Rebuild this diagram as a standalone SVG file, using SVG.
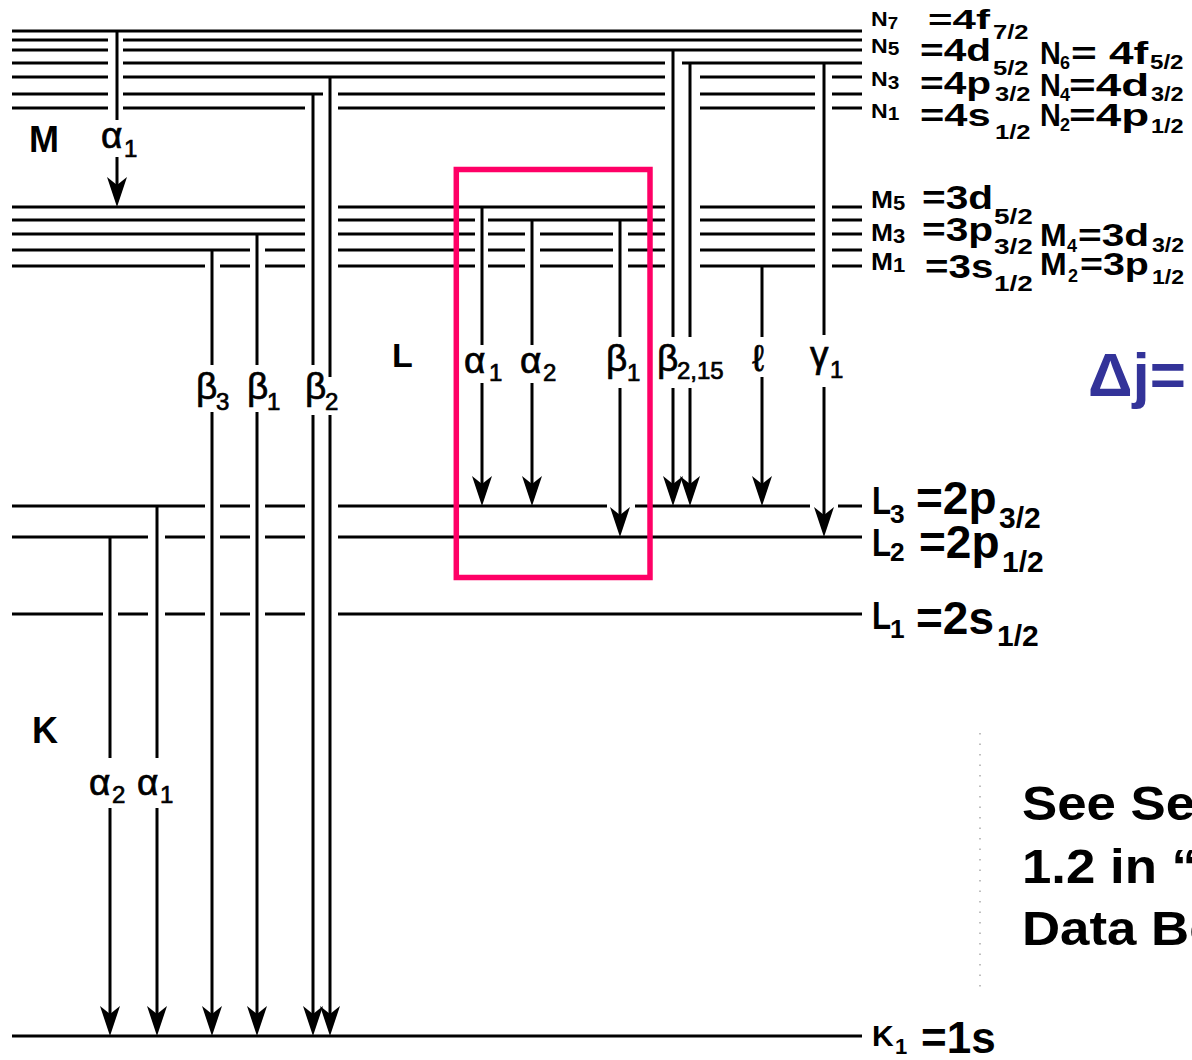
<svg xmlns="http://www.w3.org/2000/svg" width="1192" height="1060" viewBox="0 0 1192 1060">
<defs>
<style>
.lv{stroke:#000;stroke-width:3;fill:none}
.tr{stroke:#000;stroke-width:3;fill:none;marker-end:url(#arrow)}
text{font-family:"Liberation Sans",Arial,Helvetica,sans-serif;fill:#000}
.b{font-weight:bold}
.g{font-size:37px;stroke:#000;stroke-width:0.7}
.gs{font-size:24px}
.reg{font-weight:bold;font-size:36px}
</style>
<marker id="arrow" markerUnits="userSpaceOnUse" markerWidth="32" markerHeight="22" viewBox="-31 -11 32 22" refX="-8" refY="0" orient="auto">
<path d="M0,0 L-30,-10 L-22,0 L-30,10 Z" fill="#000"/>
</marker>
</defs>
<rect width="1192" height="1060" fill="#fff"/>

<!-- energy levels -->
<g id="N7">
<path class="lv" d="M12 31H862"/>
<text class="b" transform="translate(871,26) scale(1.1,1)" font-size="21">N<tspan font-size="17" dy="3">7</tspan></text>
<text class="b" transform="translate(928,29) scale(1.5,1)" font-size="28">=4f</text>
<text class="b" transform="translate(993,39) scale(1.22,1)" font-size="21">7/2</text>
</g>
<g id="N6">
<path class="lv" d="M12 40H108M123 40H862"/>
<text class="b" transform="translate(1040,64) scale(0.9,1)" font-size="32">N</text>
<text class="b" transform="translate(1060,69)" font-size="18">6</text>
<text class="b" transform="translate(1071,64) scale(1.38,1)" font-size="32">= 4f</text>
<text class="b" transform="translate(1150,69) scale(1.15,1)" font-size="21">5/2</text>
</g>
<g id="N5">
<path class="lv" d="M12 50H108M123 50H862"/>
<text class="b" transform="translate(871,53) scale(1.1,1)" font-size="21">N<tspan font-size="19" dy="2">5</tspan></text>
<text class="b" transform="translate(920,61) scale(1.27,1)" font-size="32">=4d</text>
<text class="b" transform="translate(993,75) scale(1.22,1)" font-size="21">5/2</text>
</g>
<g id="N4">
<path class="lv" d="M12 63H108M123 63H665M682 63H862"/>
<text class="b" transform="translate(1040,96) scale(0.9,1)" font-size="32">N</text>
<text class="b" transform="translate(1060,101)" font-size="18">4</text>
<text class="b" transform="translate(1069,96) scale(1.43,1)" font-size="32">=4d</text>
<text class="b" transform="translate(1151,101) scale(1.12,1)" font-size="21">3/2</text>
</g>
<g id="N3">
<path class="lv" d="M12 77H108M123 77H665M700 77H815M832 77H862"/>
<text class="b" transform="translate(871,86) scale(1.1,1)" font-size="21">N<tspan font-size="19" dy="3">3</tspan></text>
<text class="b" transform="translate(920,94) scale(1.27,1)" font-size="32">=4p</text>
<text class="b" transform="translate(995,101) scale(1.22,1)" font-size="21">3/2</text>
</g>
<g id="N2">
<path class="lv" d="M12 94H108M123 94H323M338 94H665M700 94H815M832 94H862"/>
<text class="b" transform="translate(1040,126) scale(0.9,1)" font-size="32">N</text>
<text class="b" transform="translate(1060,131)" font-size="18">2</text>
<text class="b" transform="translate(1069,126) scale(1.43,1)" font-size="32">=4p</text>
<text class="b" transform="translate(1151,133) scale(1.12,1)" font-size="21">1/2</text>
</g>
<g id="N1">
<path class="lv" d="M12 108H108M123 108H305M338 108H665M700 108H815M832 108H862"/>
<text class="b" transform="translate(871,118) scale(1.1,1)" font-size="21">N<tspan font-size="19" dy="2">1</tspan></text>
<text class="b" transform="translate(920,126) scale(1.3,1)" font-size="32">=4s</text>
<text class="b" transform="translate(995,139) scale(1.22,1)" font-size="21">1/2</text>
</g>

<g id="M5">
<path class="lv" d="M12 207H305M338 207H665M700 207H815M832 207H862"/>
<text class="b" transform="translate(871,208) scale(1.1,1)" font-size="24">M<tspan font-size="20" dy="2">5</tspan></text>
<text class="b" transform="translate(922,209) scale(1.23,1)" font-size="33">=3d</text>
<text class="b" transform="translate(994,224) scale(1.27,1)" font-size="22">5/2</text>
</g>
<g id="M4">
<path class="lv" d="M12 220H305M338 220H475M488 220H665M700 220H815M832 220H862"/>
<text class="b" x="1040" y="246" font-size="32">M</text>
<text class="b" x="1067" y="252" font-size="18">4</text>
<text class="b" transform="translate(1078,246) scale(1.27,1)" font-size="32">=3d</text>
<text class="b" transform="translate(1152,252) scale(1.1,1)" font-size="21">3/2</text>
</g>
<g id="M3">
<path class="lv" d="M12 234H305M338 234H475M488 234H525M540 234H613M628 234H665M700 234H815M832 234H862"/>
<text class="b" transform="translate(871,241) scale(1.1,1)" font-size="24">M<tspan font-size="20" dy="2">3</tspan></text>
<text class="b" transform="translate(922,241) scale(1.23,1)" font-size="33">=3p</text>
<text class="b" transform="translate(994,254) scale(1.27,1)" font-size="22">3/2</text>
</g>
<g id="M2">
<path class="lv" d="M12 250H250M265 250H305M338 250H475M488 250H525M540 250H613M628 250H665M700 250H815M832 250H862"/>
<text class="b" x="1040" y="275" font-size="32">M</text>
<text class="b" x="1068" y="282" font-size="18">2</text>
<text class="b" transform="translate(1080,275) scale(1.23,1)" font-size="32">=3p</text>
<text class="b" transform="translate(1152,284) scale(1.1,1)" font-size="21">1/2</text>
</g>
<g id="M1">
<path class="lv" d="M12 266H205M220 266H250M265 266H305M338 266H475M488 266H525M540 266H613M628 266H665M700 266H815M832 266H862"/>
<text class="b" transform="translate(871,270) scale(1.1,1)" font-size="24">M<tspan font-size="20" dy="2">1</tspan></text>
<text class="b" transform="translate(925,278) scale(1.22,1)" font-size="33">=3s</text>
<text class="b" transform="translate(994,291) scale(1.27,1)" font-size="22">1/2</text>
</g>

<g id="L3">
<path class="lv" d="M12 506H205M220 506H250M265 506H305M338 506H607M635 506H810M838 506H862"/>
<text class="b" transform="translate(872,514) scale(0.8,1)" font-size="39">L</text>
<text class="b" transform="translate(890,523) scale(1.05,1)" font-size="25">3</text>
<text class="b" x="916" y="514" font-size="46">=2p</text>
<text class="b" x="999" y="528" font-size="30">3/2</text>
</g>
<g id="L2">
<path class="lv" d="M12 537H148M165 537H205M220 537H250M265 537H305M338 537H862"/>
<text class="b" transform="translate(872,556) scale(0.8,1)" font-size="39">L</text>
<text class="b" transform="translate(890,561) scale(1.05,1)" font-size="25">2</text>
<text class="b" x="919" y="558" font-size="46">=2p</text>
<text class="b" x="1002" y="572" font-size="30">1/2</text>
</g>
<g id="L1">
<path class="lv" d="M12 614H103M118 614H148M165 614H205M220 614H250M265 614H305M338 614H862"/>
<text class="b" transform="translate(872,629) scale(0.8,1)" font-size="39">L</text>
<text class="b" transform="translate(890,638) scale(1.05,1)" font-size="25">1</text>
<text class="b" x="916" y="634" font-size="46">=2s</text>
<text class="b" x="997" y="646" font-size="30">1/2</text>
</g>
<g id="K1">
<path class="lv" d="M12 1036H862"/>
<text class="b" x="872" y="1046" font-size="30">K</text>
<text class="b" x="895" y="1054" font-size="22">1</text>
<text class="b" x="921" y="1053" font-size="44">=1s</text>
</g>

<!-- shell labels -->
<g id="shell-labels">
<text class="reg" x="29" y="152">M</text>
<text class="b" x="392" y="367" font-size="34">L</text>
<text class="reg" x="32" y="743">K</text>
</g>

<!-- transitions -->
<g id="transitions">
<path class="tr" d="M117 31V120M117 157V199"/>
<path class="tr" d="M212 250V365M212 412V1028"/>
<path class="tr" d="M257 234V365M257 412V1028"/>
<path class="tr" d="M313 94V365M313 415V1028"/>
<path class="tr" d="M330 77V377M330 415V1028"/>
<path class="tr" d="M157 506V758M157 808V1028"/>
<path class="tr" d="M110 537V758M110 808V1028"/>
<path class="tr" d="M482 207V345M482 383V498"/>
<path class="tr" d="M532 220V345M532 383V498"/>
<path class="tr" d="M620 220V337M620 388V529"/>
<path class="tr" d="M673 50V337M673 388V498"/>
<path class="tr" d="M690 63V337M690 388V498"/>
<path class="tr" d="M762 266V337M762 377V498"/>
<path class="tr" d="M824 63V335M824 387V529"/>

<text class="g" x="101" y="148">α<tspan class="gs" x="124" y="157" font-size="21">1</tspan></text>
<text class="g" x="196" y="399">β<tspan class="gs" x="216" y="410">3</tspan></text>
<text class="g" x="247" y="399">β<tspan class="gs" x="267" y="410">1</tspan></text>
<text class="g" x="305" y="399">β<tspan class="gs" x="325" y="410">2</tspan></text>
<text class="g" x="89" y="795">α<tspan class="gs" x="112" y="803">2</tspan></text>
<text class="g" x="137" y="795">α<tspan class="gs" x="160" y="803">1</tspan></text>
<text class="g" x="464" y="373">α<tspan class="gs" x="489" y="381">1</tspan></text>
<text class="g" x="520" y="373">α<tspan class="gs" x="543" y="381">2</tspan></text>
<text class="g" x="606" y="371">β<tspan class="gs" x="627" y="381">1</tspan></text>
<text class="g" x="657" y="371">β<tspan class="gs" x="677" y="379">2,15</tspan></text>
<text class="g" x="752" y="371">ℓ</text>
<text class="g" x="810" y="367">γ<tspan class="gs" x="830" y="378">1</tspan></text>
</g>

<!-- side notes -->
<text class="b" x="1088" y="396" font-size="62" style="fill:#333399">Δj=</text>
<g id="note">
<text class="b" transform="translate(1022,820) scale(1.1,1)" font-size="48">See Se</text>
<text class="b" transform="translate(1022,883) scale(1.1,1)" font-size="48">1.2 in “</text>
<text class="b" transform="translate(1022,945) scale(1.1,1)" font-size="48">Data Bo</text>
</g>
<line x1="980" y1="733" x2="980" y2="988" stroke="#aaa" stroke-width="1.5" stroke-dasharray="1.5 9"/>

<!-- highlight box -->
<rect id="highlight" x="456.3" y="169.5" width="193.7" height="408" fill="none" stroke="#ff0066" stroke-width="5.5"/>
</svg>
